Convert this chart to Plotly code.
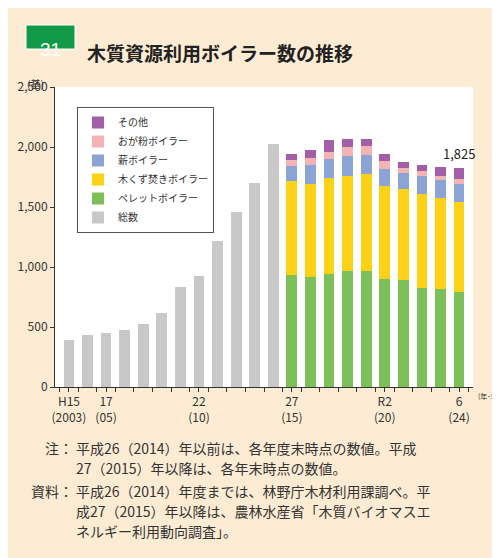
import plotly.graph_objects as go

years = list(range(2003, 2025))
x_pos = list(range(len(years)))
total_old = [394, 431, 450, 475, 528, 614, 836, 922, 1217, 1461, 1700, 2022] + [None]*10
pellet  = [None]*12 + [933, 914, 944, 964, 969, 903, 892, 822, 814, 794]
woodchip = [None]*12 + [784, 780, 800, 797, 803, 775, 755, 786, 764, 750]
firewood = [None]*12 + [127, 156, 159, 167, 164, 141, 139, 148, 150, 148]
sawdust = [None]*12 + [45, 61, 58, 75, 70, 67, 42, 41, 33, 44]
other   = [None]*12 + [55, 61, 97, 64, 63, 56, 47, 50, 72, 89]
tick_vals = [0, 2, 7, 12, 17, 21]
tick_text = ["H15<br>(2003)", "17<br>(05)", "22<br>(10)", "27<br>(15)", "R2<br>(20)", "6<br>(24)"]

FONT = "Noto Sans CJK JP"
fig = go.Figure()
series = [("総数", total_old, "#c8c8c8"), ("ペレットボイラー", pellet, "#7dc05a"),
          ("木くず焚きボイラー", woodchip, "#fcd116"), ("薪ボイラー", firewood, "#8ca3d6"),
          ("おが粉ボイラー", sawdust, "#f4b4b4"), ("その他", other, "#a35ea8")]
for name, vals, col in series:
    fig.add_bar(x=x_pos, y=vals, name=name, marker_color=col, marker_line_width=0, width=0.58)

def px(x): return (x-47)/418
def py(y): return (379-y)/300

fig.update_layout(
    width=500, height=558, barmode="stack", bargap=0,
    paper_bgcolor="#fdecd3", plot_bgcolor="white",
    margin=dict(l=47, r=35, t=79, b=179, autoexpand=False),
    font=dict(family=FONT, size=12, color="#333"),
    legend=dict(traceorder="reversed", x=px(69), y=py(99), xanchor="left", yanchor="top",
                bgcolor="white", bordercolor="#555", borderwidth=1,
                font=dict(size=10), itemwidth=30, tracegroupgap=0),
    xaxis=dict(range=[-0.75, 21.75], tickvals=tick_vals, ticktext=tick_text, ticks="outside",
               ticklen=4, tickcolor="#333", showline=True, linecolor="#333", tickfont=dict(size=12),
               showgrid=False, zeroline=False,
               minor=dict(tickvals=[i+0.5 for i in range(-1, 22)], ticks="outside", ticklen=4, tickcolor="#333")),
    yaxis=dict(range=[0, 2500], tickvals=[0, 500, 1000, 1500, 2000, 2500],
               ticktext=["0", "500", "1,000", "1,500", "2,000", "2,500"], ticks="outside",
               ticklen=4, tickcolor="#333", showline=True, linecolor="#333", showgrid=False,
               zeroline=False, tickfont=dict(size=12)),
    shapes=[dict(type="rect", xref="paper", yref="paper", x0=px(18), x1=px(67), y0=py(41), y1=py(17),
                 fillcolor="#129a48", line=dict(width=1, color="white"))],
)
ann = [
    dict(x=px(42.5), y=py(29), text="31", font=dict(size=19, color="white", family="Liberation Sans")),
    dict(x=px(77), y=py(29), text="<b>木質資源利用ボイラー数の推移</b>", xanchor="left", font=dict(size=19, color="#222")),
    dict(x=px(27), y=py(66), text="(基)", font=dict(size=10)),
    dict(x=px(468), y=py(395), text="(年･年度)", xanchor="left", font=dict(size=7)),
]
for a in ann:
    a.update(xref="paper", yref="paper", showarrow=False)
    a.setdefault("xanchor", "center")
    fig.add_annotation(**a)
fig.add_annotation(x=21, y=1825, xref="x", yref="y", text="1,825", showarrow=False,
                   yanchor="bottom", yshift=3, font=dict(size=13, color="#222"))
notes = [("注：", "平成26（2014）年以前は、各年度末時点の数値。平成", 452),
         ("", "27（2015）年以降は、各年末時点の数値。", 472),
         ("資料：", "平成26（2014）年度までは、林野庁木材利用課調べ。平", 495),
         ("", "成27（2015）年以降は、農林水産省「木質バイオマスエ", 515),
         ("", "ネルギー利用動向調査」。", 535)]
for lab, txt, y in notes:
    if lab:
        fig.add_annotation(x=px(67), y=py(y), xref="paper", yref="paper", text=lab, showarrow=False,
                           xanchor="right", font=dict(size=14, color="#333"))
    fig.add_annotation(x=px(66), y=py(y), xref="paper", yref="paper", text=txt, showarrow=False,
                       xanchor="left", font=dict(size=14, color="#333"))
fig.write_html("out.html")
